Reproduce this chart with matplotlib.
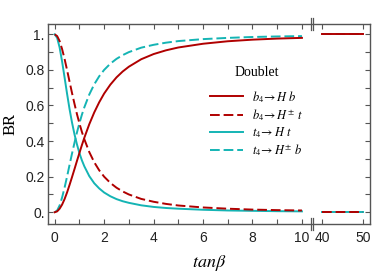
import numpy as np
import matplotlib
matplotlib.use("Agg")
import matplotlib.pyplot as plt
from matplotlib.lines import Line2D

plt.rcParams['mathtext.fontset'] = 'stix'

# ---- data ----
tanb = [0, 0.1, 0.2, 0.3, 0.4, 0.5, 0.6, 0.7, 0.8, 0.9, 1.0, 1.1, 1.2, 1.4, 1.6,
        1.8, 2.0, 2.25, 2.5, 2.75, 3.0, 3.5, 4.0, 4.5, 5.0, 6.0, 7.0, 8.0, 9.0, 10.0]
b4_Hb = [0, 0.005, 0.020, 0.043, 0.074, 0.111, 0.153, 0.197, 0.242, 0.288, 0.333,
         0.377, 0.419, 0.495, 0.561, 0.618, 0.667, 0.717, 0.758, 0.791, 0.818, 0.860,
         0.889, 0.910, 0.926, 0.947, 0.961, 0.970, 0.976, 0.980]
b4_Hpm_t = [1.0, 0.990, 0.962, 0.917, 0.862, 0.800, 0.735, 0.671, 0.610, 0.552, 0.500,
            0.452, 0.410, 0.338, 0.281, 0.236, 0.200, 0.165, 0.138, 0.117, 0.100, 0.075,
            0.059, 0.047, 0.038, 0.027, 0.020, 0.015, 0.012, 0.010]
t4_Ht = [1.0, 0.980, 0.926, 0.847, 0.758, 0.667, 0.581, 0.505, 0.439, 0.382, 0.333,
         0.292, 0.258, 0.203, 0.163, 0.134, 0.111, 0.090, 0.074, 0.062, 0.053, 0.039,
         0.030, 0.024, 0.020, 0.014, 0.010, 0.008, 0.006, 0.005]
t4_Hpm_b = [0, 0.010, 0.038, 0.083, 0.138, 0.200, 0.265, 0.329, 0.390, 0.448, 0.500,
            0.548, 0.590, 0.662, 0.719, 0.764, 0.800, 0.835, 0.862, 0.883, 0.900, 0.925,
            0.941, 0.953, 0.962, 0.973, 0.980, 0.985, 0.988, 0.990]

tanb_hi = [40, 50]
b4_Hb_hi = [1.0, 1.0]
b4_Hpm_t_hi = [0.0, 0.0]
t4_Ht_hi = [0.0, 0.0]
t4_Hpm_b_hi = [1.0, 1.0]

labels = [r'$b_4\!\rightarrow H\ b$', r'$b_4\!\rightarrow H^{\pm}\ t$',
          r'$t_4\!\rightarrow H\ t$', r'$t_4\!\rightarrow H^{\pm}\ b$']
xticks = [0, 2, 4, 6, 8, 10, 40, 50]
xminor = [1, 3, 5, 7, 9]
yticks = [0, 0.2, 0.4, 0.6, 0.8, 1.0]
ytick_labels = ['0.', '0.2', '0.4', '0.6', '0.8', '1.']

# ---- broken x scale ----
GAP = 0.81
K = 0.166


def fwd(x):
    x = np.asarray(x, dtype=float)
    return np.where(x <= 10, x,
                    np.where(x <= 40, 10 + (x - 10) * GAP / 30.0,
                             10 + GAP + (x - 40) * K))


def inv(u):
    u = np.asarray(u, dtype=float)
    return np.where(u <= 10, u,
                    np.where(u <= 10 + GAP, 10 + (u - 10) * 30.0 / GAP,
                             40 + (u - 10 - GAP) / K))


RED = '#b00000'
CYAN = '#14b4b4'
FRAME = '#555555'
DASH = (0, (5, 2))

fig = plt.figure(figsize=(3.74, 2.75), dpi=100)
ax = fig.add_axes([48 / 374, 1 - 224 / 275, (370 - 48) / 374, (224 - 24) / 275])
ax.set_xscale('function', functions=(fwd, inv))

lw = 1.4
ax.plot(tanb, t4_Ht, color=CYAN, lw=lw)
ax.plot(tanb, t4_Hpm_b, color=CYAN, lw=lw, ls=DASH)
ax.plot(tanb, b4_Hb, color=RED, lw=lw)
ax.plot(tanb, b4_Hpm_t, color=RED, lw=lw, ls=DASH)

ax.plot(tanb_hi, t4_Ht_hi, color=CYAN, lw=lw)
ax.plot(tanb_hi, t4_Hpm_b_hi, color=CYAN, lw=lw, ls=DASH)
ax.plot(tanb_hi, b4_Hb_hi, color=RED, lw=lw)
ax.plot(tanb_hi, b4_Hpm_t_hi, color=RED, lw=lw, ls=DASH)

ax.set_xlim(-0.27, 51.7)
ax.set_ylim(-0.066, 1.058)

ax.set_xticks(xticks)
ax.set_xticklabels([str(t) for t in xticks])
ax.set_xticks(xminor, minor=True)
ax.set_yticks(yticks)
ax.set_yticklabels(ytick_labels)
ax.set_yticks([0.1, 0.3, 0.5, 0.7, 0.9], minor=True)

for spine in ax.spines.values():
    spine.set_color(FRAME)
    spine.set_linewidth(1.0)

ax.tick_params(which='both', direction='in', length=3.5, width=0.8,
               color=FRAME, top=True, right=True, labelsize=10,
               labelcolor='#222222')
ax.tick_params(axis='x', pad=5)
ax.tick_params(axis='y', pad=2.5)
for lab in ax.get_xticklabels() + ax.get_yticklabels():
    lab.set_family('Liberation Sans')

ax.set_ylabel('BR', family='Liberation Serif', fontsize=12, labelpad=5)
ax.set_xlabel(r'$tan\beta$', fontsize=13, labelpad=6)

# break marks (data x between 10 and 40 lies inside the gap)
for y in (0, 1):
    for bx in (23.5, 26.5):
        ax.plot([bx, bx], [y - 0.03, y + 0.03], transform=ax.get_xaxis_transform(),
                color=FRAME, lw=0.9, clip_on=False, zorder=5)

handles = [Line2D([], [], color=RED, lw=lw),
           Line2D([], [], color=RED, lw=lw, ls=DASH),
           Line2D([], [], color=CYAN, lw=lw),
           Line2D([], [], color=CYAN, lw=lw, ls=DASH)]
leg = ax.legend(handles, labels, title='Doublet', frameon=False,
                loc='upper left', bbox_to_anchor=(0.489, 0.815),
                fontsize=9, handlelength=2.6, handletextpad=0.7,
                labelspacing=0.2, borderaxespad=0.0)
leg.get_title().set_family('Liberation Serif')
leg.get_title().set_fontsize(10)
leg._legend_box.sep = 7

fig.savefig('out.png', dpi=100)
